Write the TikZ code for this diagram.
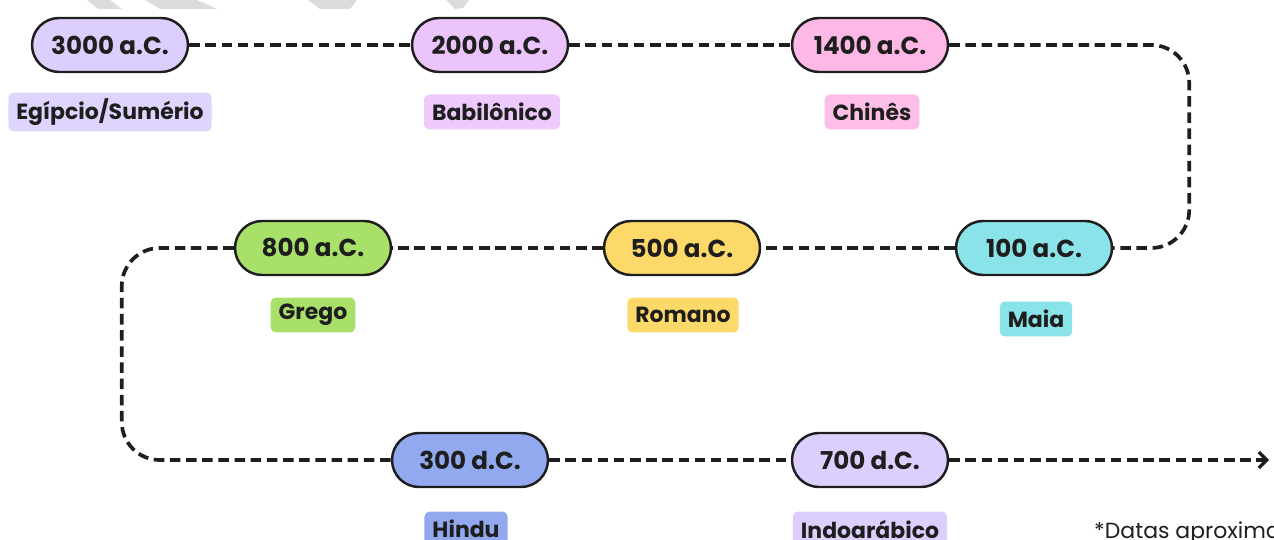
\documentclass[tikz,border=0pt]{standalone}
\usepackage{fontspec}
\setmainfont{Poppins}
\usetikzlibrary{arrows.meta}
\definecolor{ink}{HTML}{1E1E1E}
\definecolor{lilac}{HTML}{DCCFFD}
\definecolor{orchid}{HTML}{EBC4FB}
\definecolor{blush}{HTML}{FDB8E6}
\definecolor{aqua}{HTML}{8AE3E9}
\definecolor{sun}{HTML}{FDD96A}
\definecolor{lime}{HTML}{A8E06A}
\definecolor{sky}{HTML}{92A9F0}
\definecolor{mist}{HTML}{DCDCDC}
\begin{document}
\begin{tikzpicture}[x=0.02cm, y=-0.02cm,
  >={Straight Barb[length=4.5pt,width=9pt,line width=2pt]},
  date/.style={draw=ink, line width=1.4pt, rounded corners=0.54cm, minimum width=3.12cm,
    minimum height=1.08cm, font=\bfseries\fontsize{14}{16}\selectfont, text=ink},
  era/.style={rounded corners=0.1cm, minimum height=0.7cm, inner xsep=0.16cm,
    font=\bfseries\fontsize{12.5}{14}\selectfont, text=ink},
  link/.style={draw=ink, line width=2.1pt, dash pattern=on 6pt off 3.2pt, rounded corners=0.76cm}]
\useasboundingbox (0,0) rectangle (1274,540);
% faint marks along the top edge
\fill[mist] (87,0) -- (110,0) -- (122,9) -- (98,9) -- cycle;
\fill[mist] (145,0) -- (197,0) -- (217,9) -- (160,9) -- cycle;
\fill[mist] (308,0) -- (357,0) -- (350,9) -- (320,9) -- cycle;
\fill[mist] (446,0) -- (469,0) -- (463,8) -- (455,9) -- cycle;
% dates
\node[date, fill=lilac] (d1) at (110,45) {3000 a.C.};
\node[date, fill=orchid] (d2) at (490,45) {2000 a.C.};
\node[date, fill=blush] (d3) at (870,45) {1400 a.C.};
\node[date, fill=aqua] (d4) at (1034,248) {100 a.C.};
\node[date, fill=sun] (d5) at (682,248) {500 a.C.};
\node[date, fill=lime] (d6) at (313,248) {800 a.C.};
\node[date, fill=sky] (d7) at (470,460) {300 d.C.};
\node[date, fill=lilac] (d8) at (870,460) {700 d.C.};
% civilisations
\node[era, fill=lilac!90] (l1) at (110,112) {Egípcio/Sumério};
\node[era, fill=orchid!90] (l2) at (492,112) {Babilônico};
\node[era, fill=blush!90] (l3) at (872,112) {Chinês};
\node[era, fill=aqua] (l4) at (1036,319) {Maia};
\node[era, fill=sun] (l5) at (683,315) {Romano};
\node[era, fill=lime] (l6) at (313,315) {Grego};
\node[era, fill=sky] (l7) at (466,529) {Hindu};
\node[era, fill=lilac] (l8) at (870,529) {Indoarábico};
\node[anchor=base west, font=\fontsize{12.5}{15}\selectfont, text=ink] (note) at (1088,538) {*Datas aproximadas};
% timeline
\draw[link] (d1) -- (d2);
\draw[link] (d2) -- (d3);
\draw[link] (d3.east) -- ++(240,0) |- (d4.east);
\draw[link] (d4) -- (d5);
\draw[link] (d5) -- (d6);
\draw[link] (d6.west) -- ++(-112,0) |- (d7.west);
\draw[link] (d7) -- (d8);
\draw[link, ->] (d8.east) -- ++(320,0);
\end{tikzpicture}
\end{document}
